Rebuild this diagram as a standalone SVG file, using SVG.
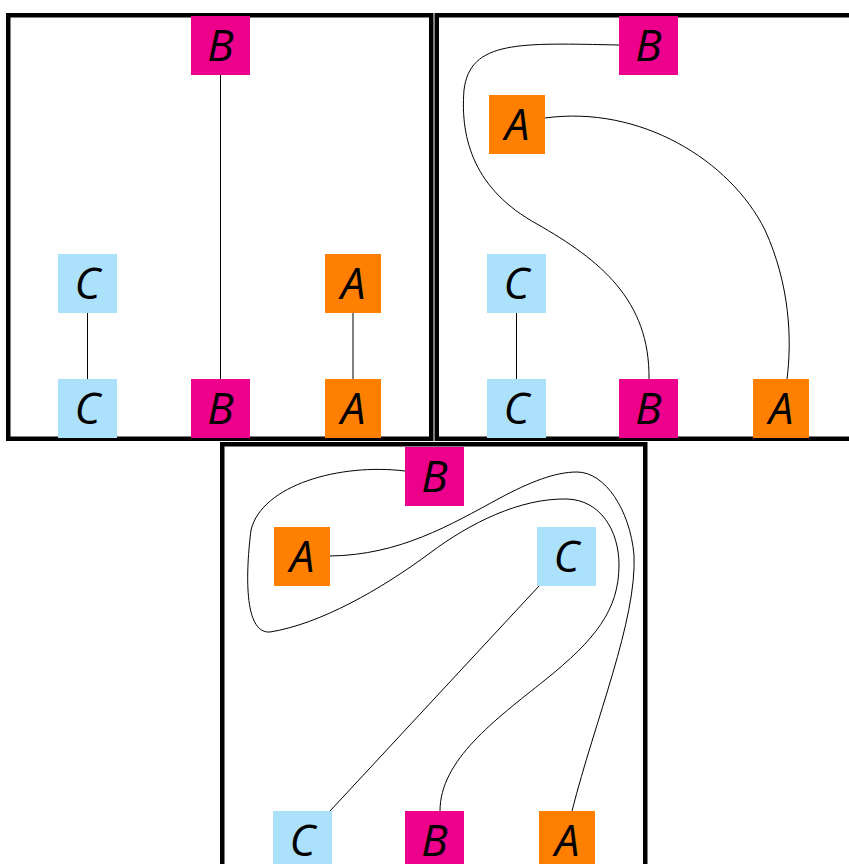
<svg xmlns="http://www.w3.org/2000/svg" width="849" height="864" viewBox="0 0 849 864">
  <style>
    .frame { fill: none; stroke: #000; stroke-width: 4.5; }
    .edge { fill: none; stroke: #000; stroke-width: 1; }
    .a { fill: #FF8000; }
    .b { fill: #EC008C; }
    .c { fill: #ABE1FA; }
    .lbl { font-family: "Open Sans", "DejaVu Sans", sans-serif; font-style: italic; font-size: 44px; fill: #000; text-anchor: middle; }
  </style>
  <rect width="849" height="864" fill="#fff"/>

  <!-- panel frames -->
  <g id="frames">
    <rect class="frame" x="8.25" y="15.25" width="423" height="423.5"/>
    <rect class="frame" x="436.75" y="15.25" width="423" height="423.5"/>
    <rect class="frame" x="222.25" y="444.25" width="423" height="423.5"/>
  </g>

  <!-- connectors -->
  <g id="connectors">
    <!-- panel 1 -->
    <line class="edge" x1="87.5" y1="313" x2="87.5" y2="379"/>
    <line class="edge" x1="220.5" y1="75" x2="220.5" y2="379"/>
    <line class="edge" x1="353" y1="313" x2="353" y2="379"/>
    <!-- panel 2 -->
    <line class="edge" x1="516.5" y1="313" x2="516.5" y2="379"/>
    <path class="edge" d="M619,45 C520,43 470,40 464,90 C460,140 475,190 537,224 C600,260 650,300 649,379"/>
    <path class="edge" d="M545,118 C640,105 730,160 765,230 C790,285 792,340 787,379"/>
    <!-- panel 3 -->
    <line class="edge" x1="539" y1="586" x2="330" y2="811"/>
    <path class="edge" d="M405,471 C340,463 262,485 251,530 C246,570 243,634 270,632 C320,624 380,590 430,553 C470,523 520,498 567,499 C600,500 619,530 619,565 C619,610 595,640 545,680 C495,720 440,760 440,811"/>
    <path class="edge" d="M330,556 C400,555 450,525 500,498 C530,482 555,472 577,472 C605,472 630,510 634,555 C637,620 595,720 572,811"/>
  </g>

  <!-- panel 1 nodes -->
  <g id="p1-B-top"><rect class="b" x="191" y="16" width="59" height="59"/><text class="lbl" x="220.5" y="61">B</text></g>
  <g id="p1-C-mid"><rect class="c" x="58" y="254" width="59" height="59"/><text class="lbl" x="87.5" y="299">C</text></g>
  <g id="p1-A-mid"><rect class="a" x="325" y="254" width="56" height="59"/><text class="lbl" x="353" y="299">A</text></g>
  <g id="p1-C-bot"><rect class="c" x="58" y="379" width="59" height="59"/><text class="lbl" x="87.5" y="424">C</text></g>
  <g id="p1-B-bot"><rect class="b" x="191" y="379" width="59" height="59"/><text class="lbl" x="220.5" y="424">B</text></g>
  <g id="p1-A-bot"><rect class="a" x="325" y="379" width="56" height="59"/><text class="lbl" x="353" y="424">A</text></g>

  <!-- panel 2 nodes -->
  <g id="p2-B-top"><rect class="b" x="619" y="16" width="59" height="59"/><text class="lbl" x="648.5" y="61">B</text></g>
  <g id="p2-A-top"><rect class="a" x="489" y="95" width="56" height="59"/><text class="lbl" x="517" y="140">A</text></g>
  <g id="p2-C-mid"><rect class="c" x="487" y="254" width="59" height="59"/><text class="lbl" x="516.5" y="299">C</text></g>
  <g id="p2-C-bot"><rect class="c" x="487" y="379" width="59" height="59"/><text class="lbl" x="516.5" y="424">C</text></g>
  <g id="p2-B-bot"><rect class="b" x="619" y="379" width="59" height="59"/><text class="lbl" x="648.5" y="424">B</text></g>
  <g id="p2-A-bot"><rect class="a" x="753" y="379" width="56" height="59"/><text class="lbl" x="781" y="424">A</text></g>

  <!-- panel 3 nodes -->
  <g id="p3-B-top"><rect class="b" x="405" y="447" width="59" height="59"/><text class="lbl" x="434.5" y="492">B</text></g>
  <g id="p3-A-mid"><rect class="a" x="274" y="527" width="56" height="59"/><text class="lbl" x="302" y="572">A</text></g>
  <g id="p3-C-mid"><rect class="c" x="537" y="527" width="59" height="59"/><text class="lbl" x="566.5" y="572">C</text></g>
  <g id="p3-C-bot"><rect class="c" x="273" y="811" width="59" height="53"/><text class="lbl" x="302.5" y="856">C</text></g>
  <g id="p3-B-bot"><rect class="b" x="405" y="811" width="59" height="53"/><text class="lbl" x="434.5" y="856">B</text></g>
  <g id="p3-A-bot"><rect class="a" x="539" y="811" width="56" height="53"/><text class="lbl" x="567" y="856">A</text></g>
</svg>
